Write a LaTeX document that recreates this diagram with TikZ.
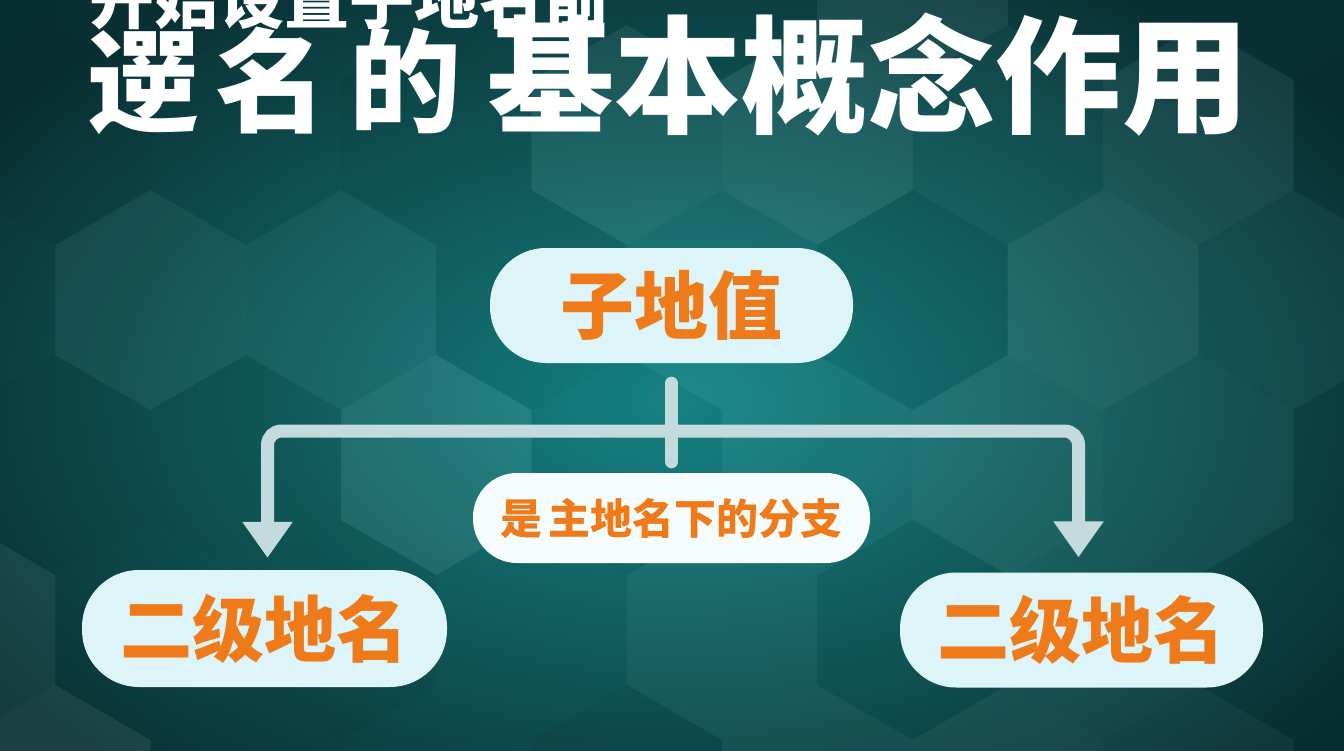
\documentclass[tikz,border=0pt]{standalone}
\usepackage{fontspec}
\newfontfamily\cjk{Noto Sans CJK SC}
\usetikzlibrary{arrows.meta}
\definecolor{bgin}{HTML}{178787}
\definecolor{bgout}{HTML}{0A3135}
\definecolor{pillc}{HTML}{DDF5F8}
\definecolor{midc}{HTML}{F6FCFC}
\definecolor{orangec}{HTML}{EE7A1A}
\definecolor{linec}{HTML}{C4DBDE}
\begin{document}
\begin{tikzpicture}[x=1pt,y=-1pt,
  titlefont/.style={text=white,inner sep=0,font=\cjk\bfseries\fontsize{#1pt}{#1pt}\selectfont},
  pill/.style={rectangle,fill=pillc,text=orangec,inner sep=0,
    font=\cjk\bfseries\fontsize{#1pt}{#1pt}\selectfont},
  conn/.style={draw=linec,line width=13pt}]
\useasboundingbox (0,0) rectangle (1344,750);
\shade[inner color=bgin,outer color=bgout] (-150,-100) rectangle (1494,900);
\begin{scope}
\clip (0,0) rectangle (1344,750);
\pgfmathsetseed{11}
\foreach \row in {0,...,5}{
  \foreach \col in {0,...,8}{
    \pgfmathsetmacro\cx{\col*190.5+mod(\row,2)*95.25-40}
    \pgfmathsetmacro\cy{\row*165-30}
    \pgfmathsetmacro\op{0.02+0.06*rnd}
    \pgfmathsetmacro\wb{rnd<0.35 ? 1 : 0}
    \ifdim\wb pt>0.5pt \def\hc{white}\else\def\hc{black}\fi
    \fill[\hc,opacity=\op] (\cx,\cy) +(30:110) -- +(90:110) -- +(150:110)
      -- +(210:110) -- +(270:110) -- +(330:110) -- cycle;
  }
}
\end{scope}
% titles
\node[titlefont=65,anchor=base] (t1) at (349,23.5) {开始设置子地名前};
\node[titlefont=112,anchor=base] (t2a) at (143.5,123) {遻};
\node[titlefont=112,anchor=base] (t2b) at (271.5,123) {名};
\node[titlefont=112,anchor=base] (t2c) at (405,123) {的};
\node[titlefont=127,anchor=base] (t2d) at (868.5,123) {基本概念作用};
% nodes
\node[pill=74,minimum width=363pt,minimum height=115pt,rounded corners=56pt] (top) at (671.5,305.5) {子地值};
\node[pill=42,fill=midc,minimum width=397pt,minimum height=90pt,rounded corners=44pt] (mid) at (671.5,518) {是\hspace{7pt}主地名下的分支};
\node[pill=72,minimum width=365pt,minimum height=117pt,rounded corners=57pt] (bl) at (264.5,628.5) {二级地名};
\node[pill=72,minimum width=363pt,minimum height=115pt,rounded corners=56pt] (br) at (1081.5,630) {二级地名};
% connectors
\coordinate (hy) at (672,431);
\coordinate (ltip) at ([yshift=12pt]bl.north);
\coordinate (rtip) at ([yshift=15pt]br.north);
\draw[conn,line cap=round] ([yshift=-20pt]top.south) -- ([yshift=11pt]mid.north);
\draw[conn,rounded corners=14pt,
  {Triangle[width=48pt,length=36pt]}-{Triangle[width=48pt,length=36pt]}]
  ([xshift=3pt]ltip) |- (hy) -| ([xshift=-3pt]rtip);
\end{tikzpicture}
\end{document}
